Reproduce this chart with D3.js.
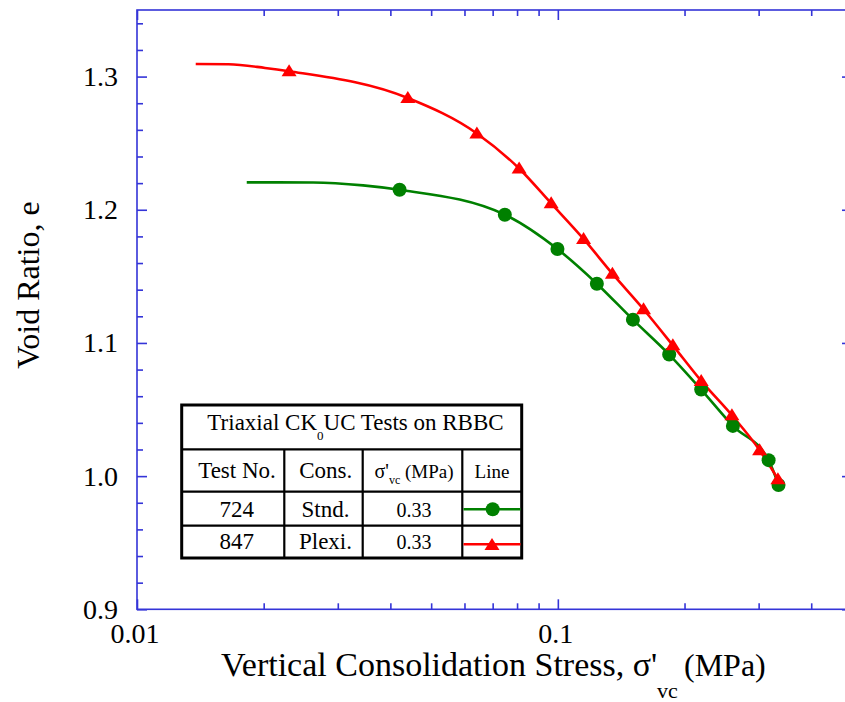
<!DOCTYPE html>
<html><head><meta charset="utf-8">
<script src="https://cdn.jsdelivr.net/npm/d3@7/dist/d3.min.js"></script>
<style>body{margin:0;background:#fff}svg{display:block}</style>
</head><body><svg id="c" width="845" height="702"></svg>
<script>
// ---------- data ----------
const xMajorTicks = [0.01, 0.1];
const xMajorLabels = ["0.01", "0.1"];
const xMinorTicks = [0.02, 0.03, 0.04, 0.05, 0.06, 0.07, 0.08, 0.09, 0.2, 0.3, 0.4];
const yMajorTicks = [0.9, 1.0, 1.1, 1.2, 1.3];
const yMajorLabels = ["0.9", "1.0", "1.1", "1.2", "1.3"];
const yMinorTicks = [0.92, 0.94, 0.96, 0.98, 1.02, 1.04, 1.06, 1.08, 1.12, 1.14, 1.16, 1.18,
                     1.22, 1.24, 1.26, 1.28, 1.32, 1.34];

// Test 724 (Stnd.) - green circles
const stndLeadStress = [0.01823, 0.02621, 0.03445];
const stndLeadVoid   = [1.2206, 1.2205, 1.2183];
const stndStress = [0.04207, 0.07482, 0.09979, 0.1238, 0.1508, 0.1839, 0.2191, 0.2606, 0.3168, 0.3345];
const stndVoid   = [1.2150, 1.1963, 1.1705, 1.1445, 1.1175, 1.0913, 1.0650, 1.0377, 1.0120, 0.9933];

// Test 847 (Plexi.) - red triangles
const plexiLeadStress = [0.01379, 0.01650, 0.02015];
const plexiLeadVoid   = [1.3095, 1.3093, 1.3065];
const plexiStress = [0.02298, 0.04401, 0.06421, 0.08091, 0.09641, 0.1151, 0.1348, 0.1598, 0.1876, 0.2191, 0.2592, 0.3016, 0.3334];
const plexiVoid   = [1.3040, 1.2839, 1.2573, 1.2310, 1.2048, 1.1781, 1.1520, 1.1253, 1.0982, 1.0715, 1.0457, 1.0195, 0.9977];

const legendTitle = ["Triaxial CK", "0", "UC Tests on RBBC"];
const legendHead = ["Test No.", "Cons.", "σ'", "vc", " (MPa)", "Line"];
const legendTests = ["724", "847"];
const legendCons = ["Stnd.", "Plexi."];
const legendStress = ["0.33", "0.33"];

// ---------- drawing ----------
const FONT = "'Liberation Serif','Times New Roman',serif";
const AX = "#3434d8";
const GREEN = "#008000", RED = "#ff0000";
const svg = d3.select("#c");

const x = d3.scaleLog().domain([0.01, 0.5]).range([137, 852]);
const y = d3.scaleLinear().domain([0.9, 1.35]).range([609.3, 10]);

// frame
svg.append("rect").attr("x", 137).attr("y", 10).attr("width", 852 - 137).attr("height", 599.3)
  .attr("fill", "none").attr("stroke", AX).attr("stroke-width", 1.6);

function styleAxis(g) {
  g.select(".domain").remove();
  g.selectAll(".tick line").attr("stroke", AX).attr("stroke-width", 1.6);
  g.selectAll(".tick text").remove();
}
// bottom / top
svg.append("g").attr("transform", "translate(0,609.3)")
  .call(d3.axisBottom(x).tickValues(xMajorTicks).tickSize(-10).tickFormat("")).call(styleAxis);
svg.append("g").attr("transform", "translate(0,609.3)")
  .call(d3.axisBottom(x).tickValues(xMinorTicks).tickSize(-6).tickFormat("")).call(styleAxis);
svg.append("g").attr("transform", "translate(0,10)")
  .call(d3.axisTop(x).tickValues(xMajorTicks).tickSize(-10).tickFormat("")).call(styleAxis);
svg.append("g").attr("transform", "translate(0,10)")
  .call(d3.axisTop(x).tickValues(xMinorTicks).tickSize(-6).tickFormat("")).call(styleAxis);
// left / right
svg.append("g").attr("transform", "translate(137,0)")
  .call(d3.axisLeft(y).tickValues(yMajorTicks).tickSize(-10).tickFormat("")).call(styleAxis);
svg.append("g").attr("transform", "translate(137,0)")
  .call(d3.axisLeft(y).tickValues(yMinorTicks).tickSize(-6).tickFormat("")).call(styleAxis);
svg.append("g").attr("transform", "translate(852,0)")
  .call(d3.axisRight(y).tickValues(yMajorTicks).tickSize(-10).tickFormat("")).call(styleAxis);
svg.append("g").attr("transform", "translate(852,0)")
  .call(d3.axisRight(y).tickValues(yMinorTicks).tickSize(-6).tickFormat("")).call(styleAxis);

// tick labels
svg.append("g").selectAll("text").data(xMajorTicks).join("text")
  .attr("x", d => x(d) - 2).attr("y", 643).attr("text-anchor", "middle")
  .attr("font-family", FONT).attr("font-size", 28).text((d, i) => xMajorLabels[i]);
svg.append("g").selectAll("text").data(yMajorTicks).join("text")
  .attr("x", 118).attr("y", d => y(d) + 9.5).attr("text-anchor", "end")
  .attr("font-family", FONT).attr("font-size", 28).text((d, i) => yMajorLabels[i]);

// axis titles
const xt = svg.append("text").attr("x", 221).attr("y", 676).attr("font-family", FONT).attr("font-size", 34);
xt.append("tspan").text("Vertical Consolidation Stress, σ'");
xt.append("tspan").attr("font-size", 22).attr("x", 657).attr("y", 698).text("vc");
xt.append("tspan").attr("font-size", 32).attr("x", 684).attr("y", 676).text("(MPa)");
svg.append("text").attr("transform", "translate(38.5,285) rotate(-90)").attr("text-anchor", "middle")
  .attr("font-family", FONT).attr("font-size", 32).text("Void Ratio, e");

// series
const line = d3.line().x(d => x(d[0])).y(d => y(d[1])).curve(d3.curveMonotoneX);
const stndLine = stndLeadStress.map((s, i) => [s, stndLeadVoid[i]]).concat(stndStress.map((s, i) => [s, stndVoid[i]]));
const plexiLine = plexiLeadStress.map((s, i) => [s, plexiLeadVoid[i]]).concat(plexiStress.map((s, i) => [s, plexiVoid[i]]));

const tri = (cx, cy) => `M${cx},${cy - 7}L${cx + 7.5},${cy + 5}L${cx - 7.5},${cy + 5}Z`;

svg.append("path").attr("d", line(stndLine)).attr("fill", "none").attr("stroke", GREEN).attr("stroke-width", 2.6);
svg.append("path").attr("d", line(plexiLine)).attr("fill", "none").attr("stroke", RED).attr("stroke-width", 2.6);
svg.append("g").selectAll("circle").data(stndStress).join("circle")
  .attr("cx", d => x(d)).attr("cy", (d, i) => y(stndVoid[i])).attr("r", 7).attr("fill", GREEN);
svg.append("g").selectAll("path").data(plexiStress).join("path")
  .attr("d", (d, i) => tri(x(d), y(plexiVoid[i]))).attr("fill", RED);

// legend table
const L = 181.7, R = 521.7, T = 405, B = 558;
const cols = [284.3, 362.7, 462.3];
const rows = [449.3, 491.7, 525.7];
const lg = svg.append("g");
lg.append("rect").attr("x", L).attr("y", T).attr("width", R - L).attr("height", B - T)
  .attr("fill", "#fff").attr("stroke", "#000").attr("stroke-width", 3);
rows.forEach(r => lg.append("line").attr("x1", L).attr("x2", R).attr("y1", r).attr("y2", r)
  .attr("stroke", "#000").attr("stroke-width", 2.2));
cols.forEach(c => lg.append("line").attr("x1", c).attr("x2", c).attr("y1", rows[0]).attr("y2", B)
  .attr("stroke", "#000").attr("stroke-width", 2.2));

const ttl = lg.append("text").attr("x", 355.5).attr("y", 430).attr("text-anchor", "middle")
  .attr("font-family", FONT).attr("font-size", 23);
ttl.append("tspan").text(legendTitle[0]);
ttl.append("tspan").attr("font-size", 13).attr("dy", 10).text(legendTitle[1]);
ttl.append("tspan").attr("dy", -10).text(legendTitle[2]);

const hy = 478.3;
lg.append("text").attr("x", 237).attr("y", hy).attr("text-anchor", "middle").attr("font-family", FONT).attr("font-size", 23).text(legendHead[0]);
lg.append("text").attr("x", 325.8).attr("y", hy).attr("text-anchor", "middle").attr("font-family", FONT).attr("font-size", 23).text(legendHead[1]);
const sh = lg.append("text").attr("x", 414).attr("y", hy).attr("text-anchor", "middle").attr("font-family", FONT).attr("font-size", 20);
sh.append("tspan").text(legendHead[2]);
sh.append("tspan").attr("font-size", 12).attr("dy", 6).text(legendHead[3]);
sh.append("tspan").attr("font-size", 19).attr("dy", -6).text(legendHead[4]);
lg.append("text").attr("x", 492).attr("y", hy).attr("text-anchor", "middle").attr("font-family", FONT).attr("font-size", 19).text(legendHead[5]);

const rowY = [516.7, 549];
legendTests.forEach((t, i) => {
  lg.append("text").attr("x", 236.7).attr("y", rowY[i]).attr("text-anchor", "middle").attr("font-family", FONT).attr("font-size", 23).text(t);
  lg.append("text").attr("x", 325.5).attr("y", rowY[i]).attr("text-anchor", "middle").attr("font-family", FONT).attr("font-size", 23).text(legendCons[i]);
  lg.append("text").attr("x", 414).attr("y", rowY[i]).attr("text-anchor", "middle").attr("font-family", FONT).attr("font-size", 20).text(legendStress[i]);
});
// symbols
lg.append("line").attr("x1", 463.5).attr("x2", 520.5).attr("y1", 509.3).attr("y2", 509.3).attr("stroke", GREEN).attr("stroke-width", 2.4);
lg.append("circle").attr("cx", 492.7).attr("cy", 509.3).attr("r", 7).attr("fill", GREEN);
lg.append("line").attr("x1", 463.5).attr("x2", 520.5).attr("y1", 544.3).attr("y2", 544.3).attr("stroke", RED).attr("stroke-width", 2.4);
lg.append("path").attr("d", tri(492, 545)).attr("fill", RED);
</script></body></html>
